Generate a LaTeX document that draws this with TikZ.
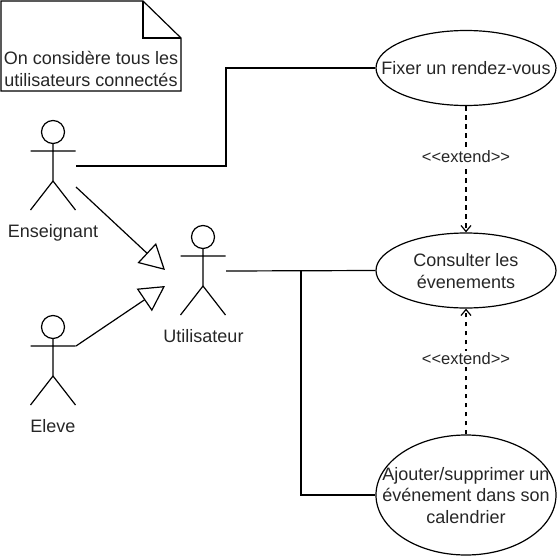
\documentclass[tikz,border=0pt]{standalone}
\usepackage{fontspec}
\setmainfont{Liberation Sans}
\usetikzlibrary{arrows.meta,shapes.geometric}
\definecolor{ink}{gray}{0.15}
\tikzset{
  x=1pt,y=-1pt,
  every path/.style={line width=1.2pt},
  usecase/.style={draw,ellipse,inner sep=0pt,minimum width=180pt},
  uclabel/.style={align=center,inner sep=0pt,font=\fontsize{18}{21.5}\selectfont,text=ink},
  lbl/.style={font=\fontsize{18}{21.5}\selectfont,text=ink,inner sep=0pt},
  stereo/.style={font=\fontsize{16.5}{18}\selectfont,text=ink,fill=white,inner sep=2pt},
  gener/.style={-{Triangle[open,length=25pt,width=27pt,line width=1.2pt]}},
  ext/.style={dash pattern=on 4.5pt off 4.5pt,-{Straight Barb[length=6pt,width=10pt,line width=1.2pt]}},
  actor/.pic={
    \draw (0,0) circle[radius=11.5];
    \draw (0,11.5) -- (0,49) (-22.5,19) -- (22.5,19) (-22.5,78) -- (0,49) -- (22.5,78);
  }
}
\begin{document}
\begin{tikzpicture}
\useasboundingbox (0,0) rectangle (557,557);
% note
\draw[fill=white] (1,1) -- (143,1) -- (181,38) -- (181,91) -- (1,91) -- cycle;
\draw (143,1) -- (143,38) -- (181,38);
\node[lbl,align=center] (note) at (91,69) {On considère tous les\\utilisateurs connectés};
% actors
\pic at (53,132) {actor};
\pic at (203,237) {actor};
\pic at (53,327) {actor};
\node[lbl] (ens) at (53,232.5) {Enseignant};
\node[lbl] (uti) at (203.5,336) {Utilisateur};
\node[lbl] (ele) at (53,426) {Eleve};
\coordinate (ensA) at (76,166);
\coordinate (ensB) at (76,187);
\coordinate (eleA) at (76,346);
\coordinate (utiT) at (165,270);
\coordinate (utiB) at (165,286);
\coordinate (utiR) at (226,271);
% use cases
\node[usecase,minimum height=75pt] (fix) at (466,68) {};
\node[usecase,minimum height=75pt] (con) at (466,270.5) {};
\node[usecase,minimum height=120pt] (aj) at (466,495) {};
\node[uclabel] (fixt) at (fix.center) {Fixer un rendez-vous};
\node[uclabel] (cont) at ([yshift=-0.5pt]con.center) {Consulter les\\évenements};
\node[uclabel] (ajt) at ([yshift=-0.5pt]aj.center) {Ajouter/supprimer un\\événement dans son\\calendrier};
% connectors
\draw (ensA) -- (226,166) -- (226,68) -- (fix.west);
\draw[gener] (ensB) -- (utiT);
\draw[gener] (eleA) -- (utiB);
\draw (utiR) -- (con.west);
\draw (301,271) -- (301,495) -- (aj.west);
\draw[ext] (fix.south) -- node[stereo,pos=0.4] (e1) {{<}{<}extend{>}{>}} (con.north);
\draw[ext] (aj.north) -- node[stereo,pos=0.6] (e2) {{<}{<}extend{>}{>}} (con.south);
\end{tikzpicture}
\end{document}
